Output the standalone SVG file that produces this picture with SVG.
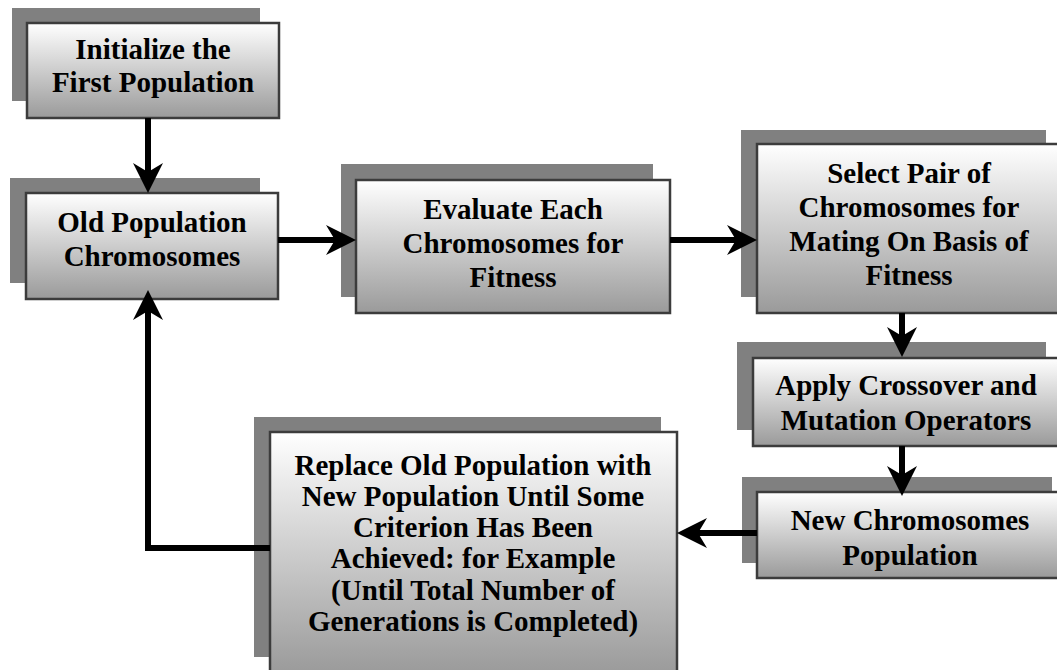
<svg xmlns="http://www.w3.org/2000/svg" width="1057" height="670" viewBox="0 0 1057 670">
  <defs>
    <linearGradient id="boxFill" x1="0" y1="0" x2="0" y2="1">
      <stop offset="0" stop-color="#ffffff"/>
      <stop offset="1" stop-color="#9a9a9a"/>
    </linearGradient>
    <marker id="arrow" markerUnits="userSpaceOnUse" viewBox="0 0 30 30" markerWidth="30" markerHeight="30" refX="15" refY="15" orient="auto">
      <path d="M0,0 L30,15 L0,30 L9,15 Z" fill="#000"/>
    </marker>
  </defs>
  <style>
    .shadow { fill: #808080; }
    .box { fill: url(#boxFill); stroke: #3c3c3c; stroke-width: 2.5; }
    .label { font-family: "Liberation Serif", "Times New Roman", serif; font-weight: bold; font-size: 29px; fill: #000; text-anchor: middle; }
    .link { fill: none; stroke: #000; stroke-width: 6; marker-end: url(#arrow); }
  </style>
  <rect width="1057" height="670" fill="#fff"/>

  <g id="node-init">
    <rect class="shadow" x="12" y="8" width="248" height="93"/>
    <rect class="box" x="27" y="23" width="252" height="95"/>
    <text class="label" x="153" y="59">Initialize the</text>
    <text class="label" x="153" y="92">First Population</text>
  </g>

  <g id="node-old">
    <rect class="shadow" x="10" y="178" width="250" height="105"/>
    <rect class="box" x="26" y="193" width="252" height="106"/>
    <text class="label" x="152" y="232">Old Population</text>
    <text class="label" x="152" y="266">Chromosomes</text>
  </g>

  <g id="node-evaluate">
    <rect class="shadow" x="341" y="164" width="312" height="133"/>
    <rect class="box" x="356" y="180" width="314" height="133"/>
    <text class="label" x="513" y="219">Evaluate Each</text>
    <text class="label" x="513" y="253">Chromosomes for</text>
    <text class="label" x="513" y="287">Fitness</text>
  </g>

  <g id="node-select">
    <rect class="shadow" x="741" y="130" width="305" height="167"/>
    <rect class="box" x="757" y="144" width="302" height="169"/>
    <text class="label" x="909" y="183">Select Pair of</text>
    <text class="label" x="909" y="217">Chromosomes for</text>
    <text class="label" x="909" y="251">Mating On Basis of</text>
    <text class="label" x="909" y="285">Fitness</text>
  </g>

  <g id="node-apply">
    <rect class="shadow" x="737" y="342" width="309" height="88"/>
    <rect class="box" x="753" y="358" width="306" height="88"/>
    <text class="label" x="906" y="395">Apply Crossover and</text>
    <text class="label" x="906" y="430">Mutation Operators</text>
  </g>

  <g id="node-new">
    <rect class="shadow" x="742" y="477" width="310" height="86"/>
    <rect class="box" x="757" y="492" width="302" height="86"/>
    <text class="label" x="910" y="530">New Chromosomes</text>
    <text class="label" x="910" y="565">Population</text>
  </g>

  <g id="node-replace">
    <rect class="shadow" x="254" y="417" width="407" height="240"/>
    <rect class="box" x="270" y="432" width="407" height="242"/>
    <text class="label" x="473" y="475">Replace Old Population with</text>
    <text class="label" x="473" y="506">New Population Until Some</text>
    <text class="label" x="473" y="537">Criterion Has Been</text>
    <text class="label" x="473" y="568">Achieved: for Example</text>
    <text class="label" x="473" y="600">(Until Total Number of</text>
    <text class="label" x="473" y="631">Generations is Completed)</text>
  </g>

  <g id="connectors">
    <path class="link" d="M148,118 V178"/>
    <path class="link" d="M278,240 H341"/>
    <path class="link" d="M670,240 H742"/>
    <path class="link" d="M902,313 V342"/>
    <path class="link" d="M902,446 V481"/>
    <path class="link" d="M757,533 H692"/>
    <path class="link" d="M270,548 H148 V305"/>
  </g>
</svg>
